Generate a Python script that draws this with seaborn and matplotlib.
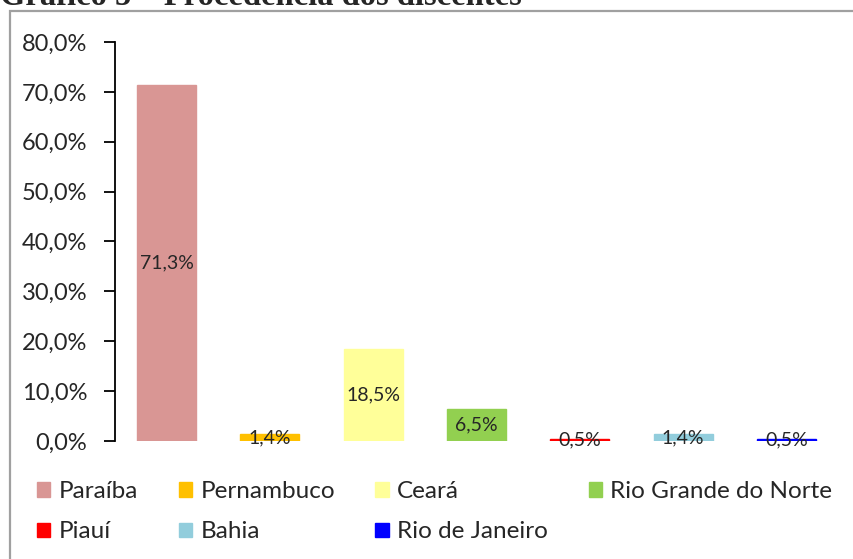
import matplotlib
matplotlib.use("Agg")
import matplotlib.pyplot as plt
import matplotlib.patches as mpatches
import pandas as pd
import seaborn as sns
from matplotlib.ticker import FuncFormatter

# dados do gráfico
estados = ["Paraíba", "Pernambuco", "Ceará", "Rio Grande do Norte",
           "Piauí", "Bahia", "Rio de Janeiro"]
percentuais = [71.3, 1.4, 18.5, 6.5, 0.5, 1.4, 0.5]
cores = ["#D99694", "#FFC000", "#FFFF99", "#92D050",
         "#FF0000", "#92CDDC", "#0000FF"]
titulo = "Gráfico 5 – Procedência dos discentes"

df = pd.DataFrame({"Estado": estados, "Percentual": percentuais})

sns.set_style("white")
plt.rcParams["font.family"] = ["Lato", "DejaVu Sans"]

W, H = 854, 559
fig = plt.figure(figsize=(W / 100, H / 100), dpi=100)
ax = fig.add_axes([115 / W, 1 - 441 / H, 723 / W, 399 / H])

sns.barplot(data=df, x="Estado", y="Percentual", hue="Estado",
            palette=cores, width=0.57, legend=False, ax=ax, saturation=1)
# contorno da mesma cor para que as barras finas fiquem visíveis
for p in ax.patches:
    p.set_edgecolor(p.get_facecolor())
    p.set_linewidth(1.0)

for c, v in zip(ax.containers, percentuais):
    ax.bar_label(c, labels=[f"{v:.1f}%".replace(".", ",")],
                 label_type="center", fontsize=14)

ax.set_ylim(0, 80)
ax.set_yticks(range(0, 81, 10))
ax.yaxis.set_major_formatter(FuncFormatter(lambda v, p: f"{v:.1f}%".replace(".", ",")))
ax.tick_params(axis="y", labelsize=17, direction="out", length=8, width=1.3,
               color="black", left=True, pad=12)
ax.set_xticks([])
ax.set_xlabel("")
ax.set_ylabel("")
for s in ["top", "right", "bottom"]:
    ax.spines[s].set_visible(False)
ax.spines["left"].set_color("black")
ax.spines["left"].set_linewidth(1.3)

# legenda (preenchida por linhas, como no original)
handles = [mpatches.Patch(color=c, label=e) for e, c in zip(estados, cores)]
ordem = [0, 4, 1, 5, 2, 6, 3]
fig.legend(handles=[handles[i] for i in ordem], ncol=4, loc="upper left",
           bbox_to_anchor=(37 / W, 1 - 481 / H), frameon=False,
           fontsize=17.5, handlelength=0.55, handleheight=0.55,
           handletextpad=0.35, columnspacing=1.66, labelspacing=0.8,
           borderpad=0, borderaxespad=0)

# moldura cinza
fig.add_artist(mpatches.Rectangle((10 / W, -0.05), 1.0, 1 - 11 / H + 0.05,
                                  transform=fig.transFigure, fill=False,
                                  edgecolor="#A0A0A0", lw=1.6))

# título (cortado no topo)
fig.text(0.0, 1 - 5 / H, titulo, family="Liberation Serif", weight="bold",
         fontsize=23.5, va="baseline", ha="left")

fig.savefig("out.png", dpi=100)
